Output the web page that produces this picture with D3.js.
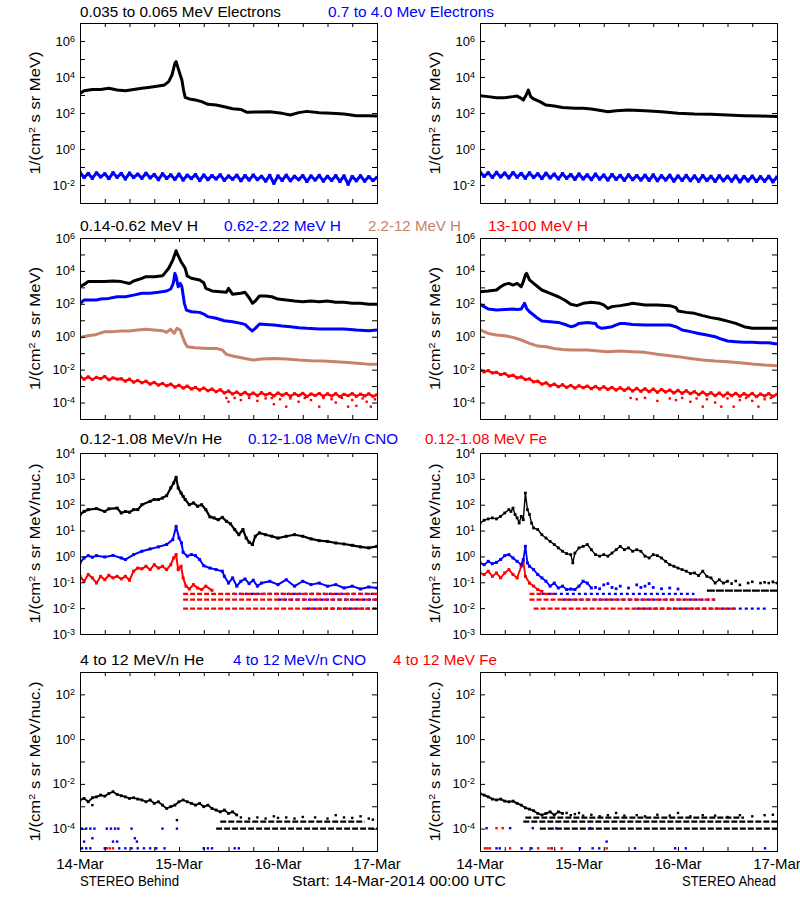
<!DOCTYPE html>
<html><head><meta charset="utf-8">
<script src="https://cdn.jsdelivr.net/npm/d3@7"></script>
<style>body{margin:0;background:#fff}</style></head><body>
<script>
// ================= DATA (log10 of flux; times in hours since 14-Mar-2014 00:00) =================
const dayLabels = ["14-Mar","15-Mar","16-Mar","17-Mar"];
const dayHours = [0,24,48,72];

// ---- Row 1: electrons ----
const eLoB = [[0,3.09],[1,3.24],[3,3.31],[5,3.31],[7,3.37],[9,3.28],[11,3.24],[13,3.31],[15,3.37],[17,3.43],[19,3.5],[20.5,3.56],[21.5,3.74],[22.3,4.11],[23,4.76],[23.3,4.85],[23.8,4.48],[24.3,4.11],[24.7,3.83],[25.1,3.28],[25.5,2.87],[26.5,2.78],[28,2.72],[29.5,2.63],[31,2.48],[33,2.44],[35,2.35],[37,2.24],[39,2.2],[40.5,2.04],[43,2.06],[46,2.07],[49,1.98],[51,1.89],[53,2.02],[55,2.09],[58,2.02],[61,1.98],[64,1.94],[67,1.85],[70,1.85],[72,1.83]];
const eHiB = [-1.30,-1.58,-1.36,-1.62,-1.33,-1.55,-1.38,-1.64,-1.32,-1.57,
 -1.36,-1.66,-1.34,-1.58,-1.40,-1.62,-1.35,-1.60,-1.42,-1.70,
 -1.38,-1.63,-1.44,-1.68,-1.40,-1.72,-1.46,-1.64,-1.42,-1.75,
 -1.45,-1.70,-1.48,-1.66,-1.44,-1.74,-1.50,-1.68,-1.46,-1.76,
 -1.48,-1.72,-1.45,-1.70,-1.52,-1.78,-1.47,-1.90,-1.50,-1.74,
 -1.46,-1.76,-1.52,-1.70,-1.48,-1.80,-1.50,-1.72,-1.47,-1.78,
 -1.52,-1.74,-1.48,-1.80,-1.50,-1.95,-1.53,-1.76,-1.49,-1.78,
 -1.54,-1.75,-1.58];
const eLoA = [[0,2.96],[2,2.91],[4,2.85],[6,2.85],[8,2.91],[9,2.94],[10,2.81],[10.5,2.72],[11.2,3.0],[11.7,3.28],[12.3,2.91],[13,2.78],[14.5,2.63],[16,2.44],[18,2.39],[20,2.31],[23,2.26],[25,2.26],[27,2.22],[30,2.11],[31,2.07],[33,2.13],[36,2.17],[40,2.13],[44,2.07],[48,1.98],[52,1.94],[56,1.93],[60,1.89],[64,1.85],[68,1.83],[72,1.8]];
const eHiA = [-1.28,-1.52,-1.32,-1.58,-1.30,-1.55,-1.34,-1.60,-1.31,-1.56,
 -1.36,-1.62,-1.33,-1.58,-1.38,-1.64,-1.35,-1.60,-1.40,-1.66,
 -1.37,-1.62,-1.42,-1.68,-1.39,-1.66,-1.44,-1.70,-1.40,-1.67,
 -1.45,-1.72,-1.42,-1.68,-1.47,-1.74,-1.44,-1.70,-1.48,-1.72,
 -1.46,-1.74,-1.44,-1.76,-1.49,-1.72,-1.46,-1.78,-1.50,-1.74,
 -1.47,-1.76,-1.50,-1.78,-1.48,-1.75,-1.52,-1.80,-1.49,-1.76,
 -1.52,-1.78,-1.50,-1.82,-1.53,-1.77,-1.51,-1.80,-1.54,-1.79,
 -1.52,-1.82,-1.56];

// ---- Row 2: protons ----
const h1B = [[0,3.04],[1,3.18],[2,3.35],[4,3.35],[6,3.35],[8,3.39],[10,3.35],[12,3.24],[13,3.39],[15,3.55],[16,3.65],[18,3.65],[20,3.71],[20.5,3.85],[21.5,4.16],[22.5,4.66],[23,5.01],[23.3,5.23],[23.7,4.97],[24.5,4.56],[25.5,4.16],[26,3.69],[27,3.55],[29,3.45],[30,3.28],[30.5,2.94],[32,2.78],[34,2.74],[35.5,2.7],[36,2.94],[37,2.58],[39,2.64],[40,2.7],[41,2.37],[41.8,2.03],[42.5,2.17],[43.5,2.47],[45,2.47],[46.5,2.43],[48,2.29],[50,2.23],[52,2.17],[54,2.13],[56,2.17],[58,2.13],[60,2.17],[62,2.09],[64,2.09],[66,2.03],[68,2.03],[70,1.97],[72,1.97]];
const h2B = [[0,2.03],[1,2.23],[2,2.23],[4,2.23],[5,2.29],[7,2.33],[9,2.43],[11,2.43],[13,2.53],[15,2.64],[17,2.64],[19,2.7],[21,2.78],[22,2.9],[22.6,3.24],[23,3.85],[23.3,3.65],[23.8,3.04],[24.3,3.24],[24.7,3.04],[25,2.53],[25.3,2.03],[25.8,1.62],[27,1.52],[29,1.48],[30,1.38],[31,1.22],[33,1.12],[35,0.97],[37,0.91],[39,0.81],[40,0.75],[41,0.51],[41.8,0.35],[42.5,0.51],[43.5,0.77],[45,0.75],[47,0.71],[49,0.65],[51,0.61],[53,0.55],[55,0.51],[58,0.47],[61,0.47],[64,0.47],[67,0.41],[70,0.37],[72,0.41]];
const h3B = [[0,-0.04],[2,0.06],[4,0.14],[6,0.31],[8,0.31],[10,0.35],[12,0.35],[14,0.41],[16,0.45],[18,0.41],[20,0.37],[21,0.27],[22,0.45],[22.8,0.2],[23.5,0.51],[24.3,0.41],[25,-0.1],[25.5,-0.4],[26,-0.61],[28,-0.67],[31,-0.71],[33,-0.71],[34.5,-0.81],[35.5,-1.07],[37,-1.17],[40,-1.32],[42,-1.42],[44,-1.36],[47,-1.32],[50,-1.36],[53,-1.42],[56,-1.46],[59,-1.48],[62,-1.52],[65,-1.56],[68,-1.62],[70,-1.68],[72,-1.68]];
const h4B = [-2.40,-2.58,-2.44,-2.60,-2.47,-2.55,-2.42,-2.62,-2.50,-2.58,
 -2.55,-2.70,-2.58,-2.76,-2.66,-2.80,-2.70,-2.88,-2.78,-2.94,
 -2.84,-2.98,-2.88,-3.06,-2.95,-3.12,-3.00,-3.18,-3.08,-3.24,
 -3.12,-3.28,-3.18,-3.34,-3.22,-3.42,-3.30,-3.48,-3.36,-3.52,
 -3.38,-3.55,-3.42,-3.58,-3.40,-3.54,-3.44,-3.60,-3.42,-3.56,
 -3.45,-3.62,-3.46,-3.58,-3.44,-3.63,-3.48,-3.57,-3.45,-3.62,
 -3.47,-3.60,-3.46,-3.64,-3.50,-3.58,-3.46,-3.62,-3.49,-3.60,
 -3.47,-3.62,-3.52];
const h4Blow = [[35.5,-3.72],[36,-3.95],[37.5,-3.72],[39,-3.85],[41,-3.72],[43,-3.9],[45,-3.75],[46.5,-3.72],[47,-4.1],[48.5,-3.8],[50,-4.25],[51,-3.75],[53,-3.95],[54.5,-3.72],[56,-3.85],[58,-4.25],[59,-3.72],[61,-3.8],[62,-4.0],[63.5,-3.72],[65,-4.25],[66,-3.85],[67,-4.2],[68.5,-3.75],[69.5,-3.95],[70.5,-4.25],[71.5,-3.8]];
const h1A = [[0,2.74],[2,2.78],[4,2.84],[5,3.04],[6,3.18],[7,3.24],[8,3.14],[9,3.24],[10,3.04],[10.5,3.35],[11,3.75],[11.3,3.85],[12,3.45],[13,3.24],[14,3.04],[15,2.84],[17,2.64],[19,2.43],[20.5,2.23],[22,1.97],[23.5,1.89],[25,2.03],[27,2.09],[29,2.03],[30,1.93],[31,1.72],[32,1.83],[34,1.89],[36,1.97],[37,2.03],[40,1.93],[43,1.93],[46,1.89],[47.5,1.77],[48,1.56],[50,1.48],[52,1.42],[54,1.28],[56,1.16],[58,1.08],[60,0.95],[62,0.81],[64,0.61],[66,0.51],[68,0.51],[70,0.51],[72,0.51]];
const h2A = [[0,1.97],[1,1.83],[2,1.68],[4,1.62],[6,1.66],[8,1.68],[9,1.66],[10,1.68],[10.8,2.03],[11.3,1.72],[12,1.52],[13,1.32],[14,1.12],[15,0.95],[17,0.91],[19,0.87],[21,0.71],[22,0.61],[23,0.67],[24,0.81],[26,0.87],[28,0.81],[28.5,0.61],[29.5,0.51],[30.5,0.55],[32,0.61],[34,0.81],[35,0.81],[37,0.75],[40,0.71],[43,0.71],[46,0.71],[47.5,0.61],[49,0.41],[51,0.31],[53,0.2],[55,0.1],[57,0.0],[58.5,-0.14],[60,-0.26],[62,-0.3],[64,-0.34],[66,-0.34],[68,-0.36],[70,-0.36],[72,-0.44]];
const h3A = [[0,0.41],[2,0.2],[4,0.1],[6,0.06],[8,-0.04],[10,-0.2],[12,-0.4],[14,-0.57],[16,-0.61],[18,-0.71],[20,-0.77],[22,-0.81],[24,-0.81],[26,-0.81],[28,-0.85],[31,-0.91],[34,-0.87],[37,-0.91],[40,-0.95],[43,-1.07],[46,-1.15],[48,-1.21],[51,-1.32],[54,-1.42],[57,-1.48],[60,-1.52],[63,-1.58],[66,-1.66],[69,-1.72],[72,-1.76]];
const h4A = [-2.02,-2.14,-2.06,-2.20,-2.16,-2.30,-2.24,-2.40,-2.34,-2.50,
 -2.44,-2.60,-2.56,-2.74,-2.70,-2.88,-2.80,-2.98,-2.88,-3.04,
 -2.92,-3.08,-2.96,-3.12,-2.98,-3.10,-3.00,-3.16,-3.02,-3.18,
 -3.04,-3.20,-3.08,-3.24,-3.10,-3.26,-3.12,-3.30,-3.14,-3.32,
 -3.16,-3.34,-3.18,-3.38,-3.20,-3.36,-3.24,-3.42,-3.26,-3.44,
 -3.28,-3.46,-3.34,-3.52,-3.36,-3.54,-3.40,-3.58,-3.42,-3.60,
 -3.42,-3.58,-3.44,-3.62,-3.46,-3.60,-3.44,-3.64,-3.48,-3.60,
 -3.46,-3.62,-3.50];
const h4Alow = [[36.5,-3.72],[38,-3.8],[40,-3.72],[43,-3.9],[46,-3.75],[47.5,-3.85],[49,-3.72],[51,-3.95],[52.5,-3.75],[54,-4.25],[55,-3.8],[57,-4.0],[58.5,-4.25],[60,-3.75],[61.5,-4.25],[63,-3.85],[64.5,-3.72],[66,-3.9],[67.5,-4.25],[69,-3.8],[70.5,-3.72]];

// ---- Row 3: 0.12-1.08 MeV/n ions ----
const heLoB = [[0,1.62],[1,1.74],[2,1.81],[4,1.85],[6,1.74],[7,1.84],[9,1.87],[10,1.68],[11,1.74],[12,1.71],[13,1.81],[14,1.81],[15,2.0],[17,2.13],[18,2.2],[19,2.2],[20,2.26],[21,2.35],[22,2.65],[22.7,2.84],[23.3,3.06],[23.8,2.65],[24.5,2.45],[25,2.32],[25.5,2.2],[26.5,2.0],[27.5,2.07],[28.5,1.94],[29.5,2.0],[30.5,1.81],[31.5,1.53],[32.5,1.49],[33.5,1.42],[34.5,1.51],[35.5,1.36],[36.5,1.26],[37.5,1.04],[38.5,0.84],[39.5,1.04],[40.3,0.71],[41,0.55],[41.8,0.46],[42.5,0.78],[43.5,0.91],[45,0.84],[46.5,0.78],[48,0.71],[50,0.78],[52,0.84],[54,0.78],[56,0.68],[58,0.61],[60,0.58],[62,0.52],[64,0.48],[66,0.43],[68,0.37],[70,0.33],[72,0.39]];
const cnoLoB = [[0,-0.25],[1,-0.06],[2,0.03],[3,-0.03],[4,0.03],[6,-0.02],[8,0.04],[10,-0.06],[11,-0.12],[13,0.07],[15,0.2],[17,0.29],[19,0.37],[21,0.46],[22.5,0.65],[23.3,1.16],[24,0.71],[24.6,0.52],[25,0.16],[26,0.01],[27,0.07],[28,0.03],[29,-0.12],[30,-0.36],[31.5,-0.45],[33,-0.51],[34.5,-0.57],[35,-0.77],[36,-1.03],[37,-0.83],[38,-1.15],[39,-0.96],[40,-0.87],[41,-1.05],[42,-0.92],[43,-1.15],[44,-1.03],[46,-0.96],[48,-1.09],[50,-0.9],[52,-1.15],[54,-0.96],[56,-1.09],[58,-1.03],[60,-1.15],[62,-1.09],[64,-1.22],[66,-1.15],[68,-1.26],[70,-1.18],[72,-1.22]];
const feLoB = [[0,-0.77],[1,-0.96],[2,-0.7],[3,-0.83],[4,-1.03],[5,-0.77],[6,-0.9],[7,-0.73],[8,-0.83],[9,-0.77],[10,-0.87],[11,-0.77],[12,-0.92],[13,-0.57],[14,-0.45],[15,-0.48],[16,-0.38],[17,-0.51],[18,-0.32],[19,-0.45],[20,-0.38],[21,-0.51],[22,-0.32],[22.7,-0.06],[23.3,0.07],[23.8,-0.51],[24.5,-0.38],[25,-0.83],[25.7,-1.15],[26.5,-1.26],[27.5,-1.09],[28.5,-1.22],[29.5,-1.28],[30.5,-1.15],[32,-1.31]];
// quantised count levels: [startHour, endHour, log10 flux]
const cnoLevB = [[37,72,-1.45],[48,72,-1.67],[55,72,-2.02]];
const feLevB = [[25,72,-1.45],[25,72,-1.67],[25,72,-2.02]];
const heLoA = [[0,1.29],[1,1.4],[2,1.45],[3,1.49],[4,1.45],[5,1.55],[6,1.68],[7,1.81],[7.5,1.74],[8,1.87],[8.5,1.62],[9,1.49],[9.5,1.29],[10,1.55],[10.5,1.42],[11,2.45],[11.5,1.81],[12,1.62],[12.5,1.29],[13,1.1],[14,1.04],[15,0.84],[16,0.71],[17,0.58],[18,0.46],[19,0.33],[20,0.2],[21,0.11],[22,0.07],[22.5,-0.25],[23,0.13],[24,0.33],[25,0.39],[26,0.46],[27,0.26],[28,0.07],[29,0.01],[30,0.07],[31,0.01],[32,0.13],[33,0.26],[34,0.39],[35,0.26],[36,0.33],[37,0.2],[38,0.26],[39,0.2],[40,0.01],[41,-0.06],[42,0.07],[43,0.03],[44,-0.06],[45,-0.19],[46,-0.32],[47,-0.38],[48,-0.45],[49,-0.51],[50,-0.57],[51,-0.66],[52,-0.64],[53,-0.74],[54,-0.57],[55,-0.77],[56,-0.83],[57,-1.03],[58,-0.9],[59,-1.03],[60,-0.96]];
const heTailA = [[61,-1.05],[62,-0.95],[63,-1.1],[65,-1.03],[66,-0.98],[68,-1.03],[69,-1.0],[70,-1.03],[71,-0.98],[72,-1.03]];
const heLevA = [[55,72,-1.32]];
const cnoLoA = [[0,-0.25],[1,-0.32],[2,-0.19],[3,-0.28],[4,-0.23],[5,-0.12],[6,0.03],[7,0.07],[8,-0.06],[9,-0.19],[10,-0.32],[10.5,-0.12],[11,0.39],[11.5,-0.25],[12,-0.38],[13,-0.51],[14,-0.7],[15,-0.83],[16,-0.96],[17,-1.15],[18,-1.03],[19,-1.22],[20,-1.15],[21,-1.28],[22,-1.26],[23,-1.28],[24,-1.15],[25,-0.96],[26,-1.03],[27,-1.22]];
const cnoTailA = [[28,-1.2],[29,-1.25],[30,-1.1],[31,-1.05],[32,-1.2],[33,-1.25],[34,-1.15],[36,-1.22],[38,-1.1],[39,-1.2],[40,-1.15],[41,-1.05],[42,-1.2],[44,-1.25],[46,-1.22],[48,-1.26]];
const cnoLevA = [[15,52,-1.45],[20,57,-1.67],[38,70,-2.02]];
const feLoA = [[0,-0.64],[1,-0.7],[2,-0.57],[3,-0.77],[4,-0.64],[5,-0.83],[6,-0.64],[7,-0.51],[8,-0.7],[9,-0.83],[10,-0.38],[10.5,-0.19],[11,-0.77],[12,-1.03],[13,-1.15],[14,-1.28],[15,-1.35]];
const feLevA = [[12,18,-1.45],[12,57,-1.67],[13,62,-2.02]];

// ---- Row 4: 4-12 MeV/n ions ----
const heHiB = [[0,-2.72],[1,-2.65],[2,-2.8],[3,-2.62],[4,-2.58],[5,-2.5],[6,-2.55],[7,-2.43],[8,-2.35],[9,-2.47],[10,-2.53],[11,-2.58],[12,-2.65],[13,-2.62],[14,-2.68],[15,-2.72],[16,-2.8],[17,-2.72],[18,-2.87],[19,-2.8],[20,-2.95],[21,-3.1],[22,-3.02],[23,-2.95],[24,-2.8],[25,-2.72],[26,-2.8],[27,-2.87],[28,-2.95],[29,-2.87],[30,-3.02],[31,-2.95],[32,-3.1],[33,-3.17],[34,-3.25],[35,-3.17],[36,-3.32],[37,-3.25],[38,-3.39]];
const heHiBtail = [[39,-3.5],[41,-3.55],[43,-3.5],[45,-3.55],[47,-3.45],[48,-3.52],[50,-3.5],[52,-3.55],[54,-3.48],[57,-3.5],[60,-3.55],[62,-3.4],[64,-3.5],[66,-3.52],[68,-3.45],[70,-3.55],[71,-3.6],[23.5,-3.62],[3,-2.95]];
const heHiLevB = [[34,69,-3.69],[33,72,-4.0]];
const cnoHiB = [[0.5,-4],[1.5,-4],[2.5,-4],[3.5,-4],[6.5,-4],[7.5,-4],[8.5,-4],[9.3,-4],[12.5,-4],[20,-4],[23.5,-4],[3,-4.43],[13.3,-4.43],[1,-4.58],[8,-4.58],[9,-4.58],[13.8,-4.58],[0.5,-4.88],[1.5,-4.88],[2.5,-4.88],[6,-4.88],[9.5,-4.88],[11,-4.88],[12.5,-4.88],[14,-4.88],[15.5,-4.88],[17,-4.88],[18.5,-4.88],[20.5,-4.88],[30,-4.88],[31,-4.88],[32,-4.88],[37.5,-4.88],[38.5,-4.88]];
const feHiB = [[6.5,-4.88],[7.2,-4.88],[8,-4.88]];
const heHiA = [[0,-2.43],[1,-2.5],[2,-2.58],[3,-2.68],[4,-2.72],[5,-2.68],[6,-2.77],[7,-2.8],[8,-2.77],[9,-2.87],[10,-2.95],[11,-3.07],[12,-3.13],[13,-3.2],[14,-3.32],[15,-3.39],[16,-3.32],[17,-3.25],[18,-3.39],[19,-3.25],[20,-3.32]];
const heHiAtail = [[21,-3.3],[22,-3.4],[23,-3.35],[24,-3.3],[25,-3.42],[27,-3.38],[29,-3.45],[31,-3.4],[33,-3.3],[35,-3.42],[38,-3.4],[40,-3.45],[43,-3.38],[46,-3.42],[48,-3.3],[51,-3.45],[54,-3.4],[57,-3.42],[60,-3.48],[63,-3.4],[66,-3.45],[69,-3.4],[71,-3.38]];
const heHiLevA = [[11,64,-3.51],[10.5,72,-3.69],[14.5,72,-4.0]];
const cnoHiA = [[1.6,-3.98],[7.3,-3.98],[12.8,-3.98],[18.5,-3.98],[26.7,-3.98],[30.7,-4.58],[4,-4.88],[4.8,-4.88],[10.1,-4.88],[12.5,-4.88],[17.4,-4.88],[24.2,-4.88],[27.3,-4.88],[28.9,-4.88],[37.6,-4.88],[47.3,-4.88],[49.9,-4.88],[69.1,-4.88]];
const feHiA = [[4,-3.98],[5.5,-3.98],[1.2,-4.88],[1.8,-4.88],[2.4,-4.88],[7.3,-4.88],[14.1,-4.88],[16.6,-4.88],[17.4,-4.88],[19.8,-4.88],[30.7,-4.88]];

// ================= LAYOUT / STYLE =================
const BLACK="#000000", BLUE="#0000ff", TAN="#c8826a", RED="#ff0000";
const FONT="'Liberation Sans', Arial, sans-serif";
const colX=[80,480], PW=297;
const rows=[
  {top:23, bot:203, dom:[1e-3,1e7], every:2, unit:"MeV)", ylen:123,
   titles:[["0.035 to 0.065 MeV Electrons",80,201,BLACK],["0.7 to 4.0 Mev Electrons",328,166,BLUE]], ty:17},
  {top:238, bot:419, dom:[1e-5,1e6], every:2, unit:"MeV)", ylen:123,
   titles:[["0.14-0.62 MeV H",80,118,BLACK],["0.62-2.22 MeV H",224,117,BLUE],["2.2-12 MeV H",368,93,TAN],["13-100 MeV H",488,100,RED]], ty:231},
  {top:453, bot:634, dom:[1e-3,1e4], every:1, unit:"MeV/nuc.)", ylen:160,
   titles:[["0.12-1.08 MeV/n He",80,142,BLACK],["0.12-1.08 MeV/n CNO",248,150,BLUE],["0.12-1.08 MeV Fe",425,122,RED]], ty:444},
  {top:672, bot:851, dom:[1e-5,1e3], every:2, unit:"MeV/nuc.)", ylen:160,
   titles:[["4 to 12 MeV/n He",80,124,BLACK],["4 to 12 MeV/n CNO",233,133,BLUE],["4 to 12 MeV Fe",393,104,RED]], ty:665}
];

const svg=d3.select("body").append("svg").attr("width",800).attr("height",900)
  .style("font-family",FONT);
svg.append("rect").attr("width",800).attr("height",900).attr("fill","#fff");

function makePanel(r,c){
  const R=rows[r], x0=colX[c];
  const x=d3.scaleLinear().domain([0,72]).range([x0,x0+PW]);
  const y=d3.scaleLog().domain(R.dom).range([R.bot,R.top]);
  const id="clip"+r+"_"+c;
  svg.append("clipPath").attr("id",id).append("rect")
    .attr("x",x0).attr("y",R.top).attr("width",PW).attr("height",R.bot-R.top);
  const g=svg.append("g").attr("clip-path","url(#"+id+")");
  const ax=svg.append("g");
  const lo=Math.round(Math.log10(R.dom[0])), hi=Math.round(Math.log10(R.dom[1]));
  const decs=d3.range(lo+1,hi).map(e=>Math.pow(10,e));
  const hrs=d3.range(6,72,6);
  const mk=(axis,tr)=>{const a=ax.append("g").attr("transform",tr).call(axis);a.select(".domain").remove();a.selectAll("line").attr("stroke","#000");};
  mk(d3.axisLeft(y).tickValues(decs).tickSizeInner(-5).tickSizeOuter(0).tickFormat(""),`translate(${x0},0)`);
  mk(d3.axisRight(y).tickValues(decs).tickSizeInner(-5).tickSizeOuter(0).tickFormat(""),`translate(${x0+PW},0)`);
  mk(d3.axisBottom(x).tickValues(hrs).tickSizeInner(-4).tickSizeOuter(0).tickFormat(""),`translate(0,${R.bot})`);
  mk(d3.axisTop(x).tickValues(hrs).tickSizeInner(-4).tickSizeOuter(0).tickFormat(""),`translate(0,${R.top})`);
  ax.append("rect").attr("x",x0+0.5).attr("y",R.top+0.5).attr("width",PW).attr("height",R.bot-R.top)
    .attr("fill","none").attr("stroke","#000").attr("stroke-width",1);
  // y tick labels
  for(let e=lo;e<=hi;e++){
    if(R.every===2 && e%2!==0) continue;
    const t=ax.append("text").attr("x",x0-5).attr("y",y(Math.pow(10,e))+4.5)
      .attr("text-anchor","end").attr("font-size",13).attr("fill","#000");
    t.append("tspan").text("10");
    t.append("tspan").attr("dy",-4).attr("font-size",9).text(String(e));
  }
  // y axis title
  const yc=(R.top+R.bot)/2, xl=x0-40;
  const yt=ax.append("text").attr("transform",`translate(${xl},${yc}) rotate(-90)`)
    .attr("text-anchor","middle").attr("font-size",14).attr("fill","#000")
    .attr("textLength",R.ylen).attr("lengthAdjust","spacingAndGlyphs");
  yt.append("tspan").text("1/(cm");
  yt.append("tspan").attr("dy",-5).attr("font-size",9).text("2");
  yt.append("tspan").attr("dy",5).text(" s sr "+R.unit);
  return {x,y,g};
}

function lin(p,pts,color,w){
  p.g.append("path").datum(pts)
    .attr("d",d3.line().x(d=>p.x(d[0])).y(d=>p.y(Math.pow(10,d[1]))))
    .attr("fill","none").attr("stroke",color).attr("stroke-width",w).attr("stroke-linejoin","round");
}
function dots(p,pts,color,s){
  s=s||2.5;
  p.g.selectAll(null).data(pts).enter().append("rect")
    .attr("x",d=>p.x(d[0])-s/2).attr("y",d=>p.y(Math.pow(10,d[1]))-s/2)
    .attr("width",s).attr("height",s).attr("fill",color);
}
function noisy(p,pts,color,w,s){ lin(p,pts,color,w||1.5); dots(p,pts,color,s||2.8); }
function hourly(arr){ return arr.map((v,i)=>[i,v]); }
function levels(p,segs,color,dash){
  p.g.selectAll(null).data(segs).enter().append("line")
    .attr("x1",d=>p.x(d[0])).attr("x2",d=>p.x(d[1]))
    .attr("y1",d=>p.y(Math.pow(10,d[2]))).attr("y2",d=>p.y(Math.pow(10,d[2])))
    .attr("stroke",color).attr("stroke-width",2.2).attr("stroke-dasharray",dash);
}

// titles
rows.forEach(R=>{
  R.titles.forEach(t=>{
    svg.append("text").attr("x",t[1]).attr("y",R.ty).attr("font-size",14).attr("fill",t[3])
      .attr("textLength",t[2]).attr("lengthAdjust","spacingAndGlyphs").text(t[0]);
  });
});

// Row 1
let p=makePanel(0,0);
noisy(p,hourly(eHiB),BLUE,3,3.2); lin(p,eLoB,BLACK,3);
p=makePanel(0,1);
noisy(p,hourly(eHiA),BLUE,3,3.2); lin(p,eLoA,BLACK,3);
// Row 2
p=makePanel(1,0);
noisy(p,hourly(h4B),RED,2.4,3); dots(p,h4Blow,RED,2.4);
lin(p,h3B,TAN,3); lin(p,h2B,BLUE,3); lin(p,h1B,BLACK,3);
p=makePanel(1,1);
noisy(p,hourly(h4A),RED,2.4,3); dots(p,h4Alow,RED,2.4);
lin(p,h3A,TAN,3); lin(p,h2A,BLUE,3); lin(p,h1A,BLACK,3);
// Row 3
p=makePanel(2,0);
levels(p,cnoLevB,BLUE,"3 3"); levels(p,feLevB,RED,"5 2");
noisy(p,feLoB,RED,2,3); noisy(p,cnoLoB,BLUE,2,3); noisy(p,heLoB,BLACK,2.2,3);
p=makePanel(2,1);
levels(p,cnoLevA,BLUE,"3 3"); levels(p,feLevA,RED,"5 2"); levels(p,heLevA,BLACK,"8 1");
dots(p,cnoTailA,BLUE,2.8); noisy(p,feLoA,RED,1.8,3); noisy(p,cnoLoA,BLUE,1.8,3);
noisy(p,heLoA,BLACK,1.4,2.8); dots(p,heTailA,BLACK,2.6);
// Row 4
p=makePanel(3,0);
levels(p,heHiLevB,BLACK,"6 2");
noisy(p,heHiB,BLACK,1.8,2.8); dots(p,heHiBtail,BLACK,2.4);
dots(p,cnoHiB,BLUE,2.4); dots(p,feHiB,RED,2.4);
p=makePanel(3,1);
levels(p,heHiLevA,BLACK,"6 2");
noisy(p,heHiA,BLACK,1.8,2.8); dots(p,heHiAtail,BLACK,2.4);
dots(p,cnoHiA,BLUE,2.4); dots(p,feHiA,RED,2.4);

// x-axis date labels
[0,1].forEach(c=>{
  const x=d3.scaleLinear().domain([0,72]).range([colX[c],colX[c]+PW]);
  dayHours.forEach((h,i)=>{
    svg.append("text").attr("x",x(h)).attr("y",869).attr("text-anchor","middle")
      .attr("font-size",15).attr("fill","#000").text(dayLabels[i]);
  });
});
svg.append("text").attr("x",80).attr("y",886).attr("font-size",15).attr("textLength",99)
  .attr("lengthAdjust","spacingAndGlyphs").text("STEREO Behind");
svg.append("text").attr("x",292).attr("y",886).attr("font-size",15).attr("textLength",214)
  .attr("lengthAdjust","spacingAndGlyphs").text("Start: 14-Mar-2014 00:00 UTC");
svg.append("text").attr("x",682).attr("y",886).attr("font-size",15).attr("textLength",94)
  .attr("lengthAdjust","spacingAndGlyphs").text("STEREO Ahead");
</script>
</body></html>
